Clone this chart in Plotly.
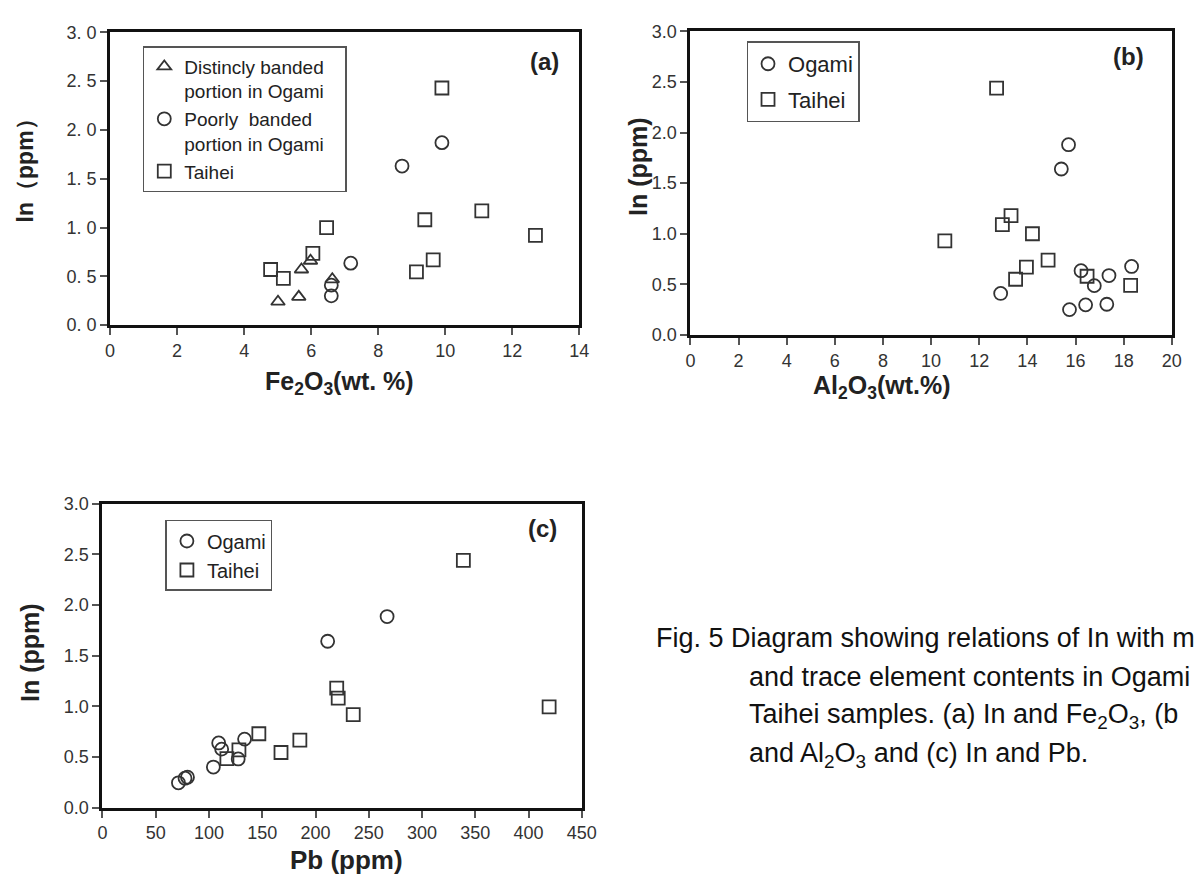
import plotly.graph_objects as go

# page body has an 8 px margin; the figure is sized so it fills the rest of the window
OFF = 8
W, H = 1195, 878

# ---------------- data ----------------
# panel (a): In vs Fe2O3
fe_distinct = [5.01, 5.63, 5.71, 5.98, 6.63]
in_distinct = [0.24, 0.29, 0.57, 0.66, 0.47]
fe_poor = [9.90, 8.71, 7.18, 6.60, 6.60]
in_poor = [1.87, 1.63, 0.635, 0.41, 0.30]
fe_taihei = [9.90, 11.09, 9.39, 12.69, 6.46, 6.05, 4.79, 5.17, 9.14, 9.64]
in_taihei_a = [2.43, 1.17, 1.08, 0.92, 1.00, 0.735, 0.57, 0.48, 0.545, 0.668]

# panel (b): In vs Al2O3
al_ogami = [15.71, 15.41, 12.89, 16.23, 16.78, 17.39, 18.33, 15.75, 16.42, 17.30]
in_ogami_b = [1.88, 1.64, 0.41, 0.635, 0.487, 0.587, 0.677, 0.25, 0.297, 0.303]
al_taihei = [12.72, 13.32, 12.96, 14.21, 10.57, 14.86, 13.96, 13.51, 16.48, 18.29]
in_taihei_b = [2.44, 1.18, 1.09, 1.00, 0.93, 0.74, 0.67, 0.55, 0.58, 0.49]

# panel (c): In vs Pb
pb_ogami = [267.2, 211.4, 109.1, 111.9, 133.4, 127.4, 104.1, 79.8, 77.5, 71.3]
in_ogami_c = [1.886, 1.642, 0.638, 0.577, 0.676, 0.48, 0.40, 0.30, 0.29, 0.245]
pb_taihei = [338.8, 419.3, 219.9, 221.3, 235.4, 146.8, 185.3, 167.6, 128.1, 116.8]
in_taihei_c = [2.44, 0.995, 1.18, 1.08, 0.917, 0.729, 0.666, 0.544, 0.57, 0.483]

# tick values / labels
y_tickvals = [0, 0.5, 1.0, 1.5, 2.0, 2.5, 3.0]
y_ticktext_a = ["0. 0", "0. 5", "1. 0", "1. 5", "2. 0", "2. 5", "3. 0"]
y_ticktext_bc = ["0.0", "0.5", "1.0", "1.5", "2.0", "2.5", "3.0"]
x_ticks_a = [0, 2, 4, 6, 8, 10, 12, 14]
x_ticks_b = [0, 2, 4, 6, 8, 10, 12, 14, 16, 18, 20]
x_ticks_c = [0, 50, 100, 150, 200, 250, 300, 350, 400, 450]

# legend names
name_distinct = "Distincly banded\u00a0\u00a0\u00a0<br>portion in Ogami"
name_poor = "Poorly  banded<br>portion in Ogami"
name_taihei = "Taihei"
name_ogami = "Ogami"

# caption as visible in the (cropped) reference
caption_lines = [
    "Fig. 5 Diagram showing relations of In with m",
    "and trace element contents in Ogami",
    "Taihei samples. (a) In and Fe<sub>2</sub>O<sub>3</sub>, (b",
    "and Al<sub>2</sub>O<sub>3</sub> and (c) In and Pb.",
]


def px(x):
    return (x - OFF) / W


def py(y):
    return 1 - (y - OFF) / H


MCOL = "#333333"
FONT = "Liberation Sans, Arial, sans-serif"


def mk(symbol, size=13):
    return dict(symbol=symbol, size=size, color=MCOL, line=dict(color=MCOL, width=1.8))


fig = go.Figure()

# panel (a)
fig.add_trace(go.Scatter(x=fe_distinct, y=in_distinct, mode="markers",
                         marker=mk("triangle-up-open", 12), name=name_distinct,
                         xaxis="x", yaxis="y", legend="legend"))
fig.add_trace(go.Scatter(x=fe_poor, y=in_poor, mode="markers",
                         marker=mk("circle-open", 13), name=name_poor,
                         xaxis="x", yaxis="y", legend="legend"))
fig.add_trace(go.Scatter(x=fe_taihei, y=in_taihei_a, mode="markers",
                         marker=mk("square-open", 13), name=name_taihei,
                         xaxis="x", yaxis="y", legend="legend"))

# panel (b)
fig.add_trace(go.Scatter(x=al_ogami, y=in_ogami_b, mode="markers",
                         marker=mk("circle-open", 13), name=name_ogami,
                         legendgroup="bo",
                         xaxis="x2", yaxis="y2", legend="legend2"))
fig.add_trace(go.Scatter(x=al_taihei, y=in_taihei_b, mode="markers",
                         marker=mk("square-open", 13), name=name_taihei,
                         legendgroup="bt",
                         xaxis="x2", yaxis="y2", legend="legend2"))

# panel (c)
fig.add_trace(go.Scatter(x=pb_ogami, y=in_ogami_c, mode="markers",
                         marker=mk("circle-open", 13), name=name_ogami,
                         xaxis="x3", yaxis="y3", legend="legend3"))
fig.add_trace(go.Scatter(x=pb_taihei, y=in_taihei_c, mode="markers",
                         marker=mk("square-open", 13), name=name_taihei,
                         xaxis="x3", yaxis="y3", legend="legend3"))

axis_common = dict(showline=True, linecolor="#111111", linewidth=3, mirror=True,
                   ticks="outside", ticklen=7, tickwidth=1.5, tickcolor="#555555",
                   showgrid=False, zeroline=False,
                   tickfont=dict(family=FONT, size=18, color="#333333"))

dom_a_x = [px(106.7), px(584.0)]
dom_a_y = [py(322.3), py(22.7)]
dom_b_x = [px(697.0), px(1186.5)]
dom_b_y = [py(332.3), py(21.7)]
dom_c_x = [px(99.0), px(586.5)]
dom_c_y = [py(816.0), py(505.0)]

fig.update_layout(
    width=W, height=H,
    margin=dict(l=0, r=0, t=0, b=0),
    paper_bgcolor="white", plot_bgcolor="white",
    font=dict(family=FONT, color="#222222"),
    xaxis=dict(domain=dom_a_x, range=[0, 14], tickvals=x_ticks_a, anchor="y", **axis_common),
    yaxis=dict(domain=dom_a_y, range=[0, 3], tickvals=y_tickvals, ticktext=y_ticktext_a,
               anchor="x", **axis_common),
    xaxis2=dict(domain=dom_b_x, range=[0, 20], tickvals=x_ticks_b, anchor="y2", **axis_common),
    yaxis2=dict(domain=dom_b_y, range=[0, 3], tickvals=y_tickvals, ticktext=y_ticktext_bc,
                anchor="x2", **axis_common),
    xaxis3=dict(domain=dom_c_x, range=[0, 450], tickvals=x_ticks_c, anchor="y3", **axis_common),
    yaxis3=dict(domain=dom_c_y, range=[0, 3], tickvals=y_tickvals, ticktext=y_ticktext_bc,
                anchor="x3", **axis_common),
    legend=dict(x=px(140), y=py(36.7), xanchor="left", yanchor="top",
                bordercolor="#555555", borderwidth=1.5, bgcolor="white",
                valign="top", tracegroupgap=0,
                font=dict(family=FONT, size=19, color="#222222")),
    legend2=dict(x=px(754), y=py(32), xanchor="left", yanchor="top",
                 bordercolor="#555555", borderwidth=1.5, bgcolor="white",
                 traceorder="grouped", tracegroupgap=4,
                 font=dict(family=FONT, size=22, color="#222222")),
    legend3=dict(x=px(163), y=py(521.7), xanchor="left", yanchor="top",
                 bordercolor="#555555", borderwidth=1.5, bgcolor="white",
                 font=dict(family=FONT, size=20, color="#222222")),
)

ann = []


def title_ann(text, x, y, angle=0, size=22):
    return dict(text=f"<b>{text}</b>", x=px(x), y=py(y), xref="paper", yref="paper",
                showarrow=False, textangle=angle, xanchor="center", yanchor="middle",
                font=dict(family=FONT, size=size, color="#222222"))


ann.append(title_ann("In（ppm）", 20, 158, -90, 23))
ann.append(title_ann("Fe<sub>2</sub>O<sub>3</sub>(wt. %)", 340, 382, 0, 25))
ann.append(title_ann("In (ppm)", 643, 160, -90, 25))
ann.append(title_ann("Al<sub>2</sub>O<sub>3</sub>(wt.%)", 892, 386, 0, 25))
ann.append(title_ann("In (ppm)", 26, 657, -90, 25))
ann.append(title_ann("Pb (ppm)", 347, 870, 0, 26))
ann.append(title_ann("(a)", 549, 53, 0, 24))
ann.append(title_ann("(b)", 1142, 47, 0, 24))
ann.append(title_ann("(c)", 547, 530, 0, 24))

cap_x = [660, 755, 755, 755]
cap_y = [642, 682, 722, 762]
for t, cx, cy in zip(caption_lines, cap_x, cap_y):
    ann.append(dict(text=t, x=px(cx), y=py(cy), xref="paper", yref="paper",
                    showarrow=False, xanchor="left", yanchor="middle", align="left",
                    font=dict(family=FONT, size=27, color="#111111")))

fig.update_layout(annotations=ann)

fig.write_html("out.html")
